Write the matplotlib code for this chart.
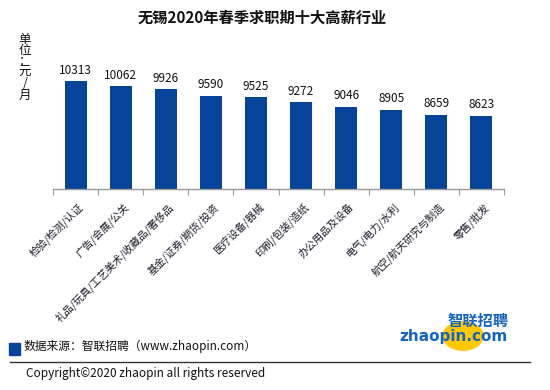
import matplotlib.pyplot as plt
from matplotlib.patches import Rectangle, Circle
from matplotlib.lines import Line2D

plt.rcParams['font.family'] = ['Noto Sans CJK SC', 'DejaVu Sans']

title = '无锡2020年春季求职期十大高薪行业'
industries = ['检验/检测/认证', '广告/会展/公关', '礼品/玩具/工艺美术/收藏品/奢侈品',
              '基金/证券/期货/投资', '医疗设备/器械', '印刷/包装/造纸', '办公用品及设备',
              '电气/电力/水利', '航空/航天研究与制造', '零售/批发']
salary = [10313, 10062, 9926, 9590, 9525, 9272, 9046, 8905, 8659, 8623]

W, H = 550, 390
bar_color = '#06449A'

fig = plt.figure(figsize=(W / 100, H / 100), dpi=100)

# axes placed in pixel units
x0, x1, ybot, ytop = 53, 504, 189, 47
ax = fig.add_axes([x0 / W, 1 - ybot / H, (x1 - x0) / W, (ybot - ytop) / H])

pos = range(len(salary))
ax.bar(pos, salary, width=0.49, color=bar_color, zorder=2)
for p, v in zip(pos, salary):
    ax.text(p, v + 220, str(v), ha='center', va='bottom', fontsize=8.5, color='#111111')

ax.set_xlim(-0.5, len(salary) - 0.5)
ax.set_ylim(5000, 12000)
ax.set_yticks([])
for s in ['top', 'right', 'left']:
    ax.spines[s].set_visible(False)
ax.spines['bottom'].set_color('#999999')
ax.spines['bottom'].set_linewidth(1)

# boundary ticks below the axis, labels at bar centres
ax.set_xticks([p - 0.5 for p in range(len(salary) + 1)])
ax.set_xticklabels([])
ax.tick_params(axis='x', length=4, color='#999999', direction='out')
for p, name in zip(pos, industries):
    ax.text(p + 0.05, 5000 - 600, name, rotation=45, ha='right', va='top',
            rotation_mode='anchor', fontsize=7.5, color='#1a1a2a')

fig.text(262 / W, 1 - 18 / H, title, ha='center', va='center',
         fontsize=11, fontweight='bold', color='#111111')

fig.text(25 / W, 1 - 67 / H, '\n'.join('单位：元/月'), ha='center', va='center',
         fontsize=9, linespacing=0.82, color='#111111')

# source line
fig.patches.append(Rectangle((9 / W, 1 - 355 / H), 11 / W, 12 / H,
                             transform=fig.transFigure, color=bar_color))
fig.text(24 / W, 1 - 346 / H, '数据来源：智联招聘（www.zhaopin.com）', ha='left', va='center',
         fontsize=8.5, color='#111111')
fig.lines.append(Line2D([10 / W, 530 / W], [1 - 362 / H, 1 - 362 / H],
                        transform=fig.transFigure, color='#333333', lw=1))
fig.text(26 / W, 1 - 374 / H, 'Copyright©2020 zhaopin all rights reserved', ha='left',
         va='center', fontsize=8.5, color='#111111')

# logo
fig.patches.append(Circle((463 / W, 1 - 336 / H), 20 / W, transform=fig.transFigure,
                          color='#FFC800', zorder=1))
fig.text(509 / W, 1 - 321 / H, '智联招聘', ha='right', va='center', fontsize=11,
         fontweight='bold', style='italic', color='#1565C0', zorder=3)
fig.text(508 / W, 1 - 336 / H, 'zhaopin.com', ha='right', va='center', fontsize=11,
         fontweight='bold', family='DejaVu Sans', color='#1565C0', zorder=3)

fig.savefig('out.png', dpi=100)
